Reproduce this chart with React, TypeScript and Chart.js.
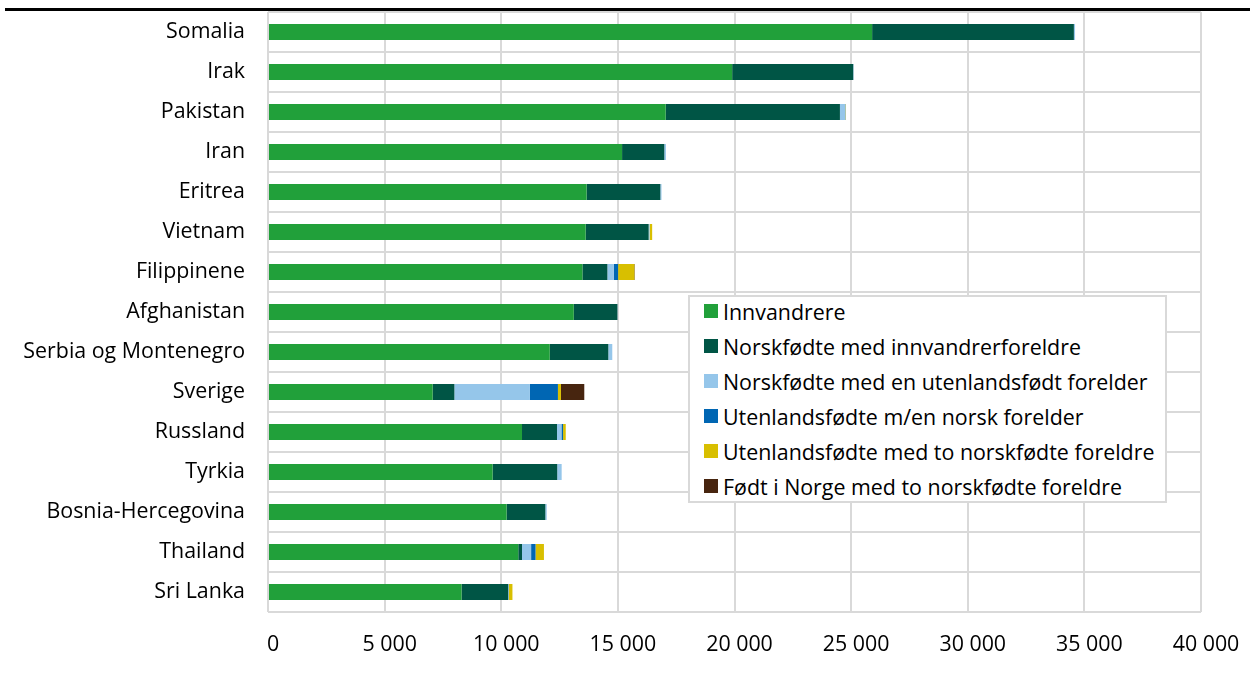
import React, { useEffect, useRef } from "react";
import { Chart, registerables } from "chart.js";

Chart.register(...registerables);

const categories = [
  "Somalia",
  "Irak",
  "Pakistan",
  "Iran",
  "Eritrea",
  "Vietnam",
  "Filippinene",
  "Afghanistan",
  "Serbia og Montenegro",
  "Sverige",
  "Russland",
  "Tyrkia",
  "Bosnia-Hercegovina",
  "Thailand",
  "Sri Lanka",
];

const innvandrere = [25900, 19900, 17050, 15180, 13660, 13620, 13480, 13110, 12080, 7060, 10890, 9630, 10230, 10730, 8300];
const norskfodteInnvForeldre = [8650, 5190, 7470, 1810, 3160, 2700, 1070, 1870, 2510, 930, 1500, 2770, 1660, 160, 2000];
const norskfodteEnUtenlForelder = [50, 20, 230, 70, 50, 40, 270, 10, 170, 3240, 190, 190, 60, 390, 30];
const utenlEnNorskForelder = [0, 0, 10, 0, 0, 0, 190, 0, 0, 1200, 70, 0, 0, 190, 0];
const utenlToNorskForeldre = [0, 0, 20, 0, 0, 110, 700, 0, 0, 130, 115, 0, 0, 360, 150];
const fodtNorgeToNorsk = [0, 0, 0, 0, 0, 0, 20, 0, 0, 1000, 0, 0, 0, 0, 0];

const seriesLabels = [
  "Innvandrere",
  "Norskfødte med innvandrerforeldre",
  "Norskfødte med en utenlandsfødt forelder",
  "Utenlandsfødte m/en norsk forelder",
  "Utenlandsfødte med to norskfødte foreldre",
  "Født i Norge med to norskfødte foreldre",
];
const seriesData = [
  innvandrere,
  norskfodteInnvForeldre,
  norskfodteEnUtenlForelder,
  utenlEnNorskForelder,
  utenlToNorskForeldre,
  fodtNorgeToNorsk,
];
const seriesColors = ["#21a03a", "#005545", "#95c6ea", "#0066b3", "#d8bf00", "#47250f"];

const xMin = 0;
const xMax = 40000;
const xStep = 5000;

const FONT = "'Open Sans', 'Noto Sans', sans-serif";
const FS = 21.4;

function fmt(v: number): string {
  return String(v).replace(/\B(?=(\d{3})+(?!\d))/g, " ");
}

export default function App() {
  const ref = useRef<HTMLCanvasElement | null>(null);

  useEffect(() => {
    if (!ref.current) return;
    const chart = new Chart(ref.current, {
      type: "bar",
      data: {
        labels: categories,
        datasets: seriesLabels.map((label, i) => ({
          label,
          data: seriesData[i],
          backgroundColor: seriesColors[i],
          borderWidth: 0,
          barPercentage: 0.4,
          categoryPercentage: 1,
        })),
      },
      options: {
        indexAxis: "y",
        animation: false,
        responsive: false,
        maintainAspectRatio: false,
        layout: { padding: { top: 12, right: 49, left: 0, bottom: 0 } },
        plugins: {
          legend: { display: false },
          tooltip: { enabled: false },
          title: { display: false },
        },
        scales: {
          x: {
            stacked: true,
            min: xMin,
            max: xMax,
            ticks: {
              stepSize: xStep,
              padding: 20,
              labelOffset: 5,
              color: "#000",
              font: { family: FONT, size: FS },
              callback: (v: any) => fmt(Number(v)),
            },
            grid: { color: "#d9d9d9", lineWidth: 2, drawTicks: false },
            border: { display: false },
            afterFit: (s: any) => {
              s.height = 65;
              s.paddingLeft = 0;
              s.paddingRight = 0;
              s.paddingTop = 0;
              s.paddingBottom = 0;
            },
          },
          y: {
            stacked: true,
            ticks: {
              padding: 23,
              color: "#000",
              font: { family: FONT, size: FS },
            },
            grid: { color: "#d9d9d9", lineWidth: 2, drawTicks: false, offset: true },
            border: { display: false },
            afterFit: (s: any) => {
              s.width = 268;
              s.paddingLeft = 0;
              s.paddingRight = 0;
              s.paddingTop = 0;
              s.paddingBottom = 0;
            },
          },
        },
      },
    });
    return () => chart.destroy();
  }, []);

  return (
    <div style={{ position: "absolute", left: 0, top: 0, width: 1250, height: 677, background: "#fff", fontFamily: FONT }}>
      <div style={{ position: "absolute", left: 5, top: 8, width: 1245, height: 3, background: "#000" }} />
      <canvas ref={ref} width={1250} height={677} style={{ position: "absolute", left: 0, top: 0, display: "block" }} />
      <div
        style={{
          position: "absolute",
          left: 688,
          top: 295,
          width: 479,
          height: 208,
          boxSizing: "border-box",
          border: "2px solid #d9d9d9",
          background: "#fff",
        }}
      >
        {seriesLabels.map((label, i) => (
          <div
            key={label}
            style={{
              position: "absolute",
              left: 14,
              top: -1 + i * 35,
              height: 30,
              display: "flex",
              alignItems: "center",
              whiteSpace: "nowrap",
              fontSize: FS,
              color: "#000",
            }}
          >
            <span style={{ display: "inline-block", width: 14, height: 14, background: seriesColors[i], marginRight: 5 }} />
            <span>{label}</span>
          </div>
        ))}
      </div>
    </div>
  );
}
